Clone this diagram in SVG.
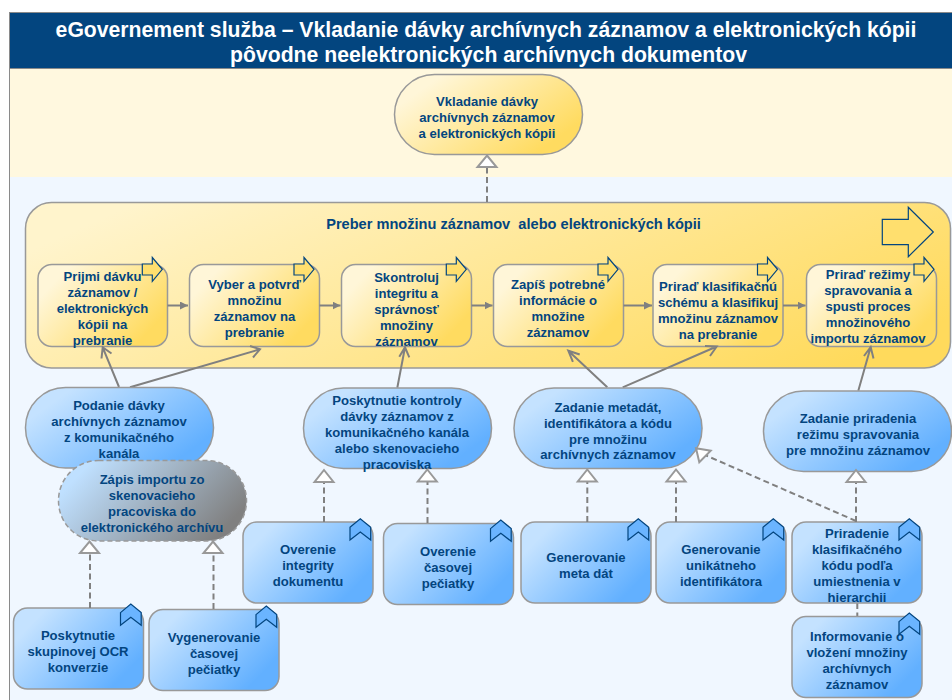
<svg xmlns="http://www.w3.org/2000/svg" width="952" height="700" viewBox="0 0 952 700">
<style>
text{font-family:"Liberation Sans",Arial,sans-serif;font-weight:bold;fill:#03457f;font-size:13.1px;text-anchor:middle}
.title{fill:#fff;font-size:21.2px}
.head{font-size:14.6px}
.n{stroke:#999;stroke-width:1.5}
.b{fill:url(#blue)}
.y{fill:url(#yel)}
.c{fill:none;stroke:#808080;stroke-width:2}
.d{fill:none;stroke:#808080;stroke-width:2;stroke-dasharray:6 3.5}
.h{fill:#fff;stroke:#999;stroke-width:2}
.o{fill:none;stroke:#808080;stroke-width:2}
.ar{fill:#ffdf6e;stroke:#03457f;stroke-width:1.2}
.ch{fill:#6ab4ff;stroke:#03457f;stroke-width:1.2}
</style>
<defs>
<linearGradient id="blue" x1="0" y1="0.2" x2="1" y2="0.8"><stop offset="0.1" stop-color="#c4e2ff"/><stop offset="0.9" stop-color="#62b0ff"/></linearGradient>
<linearGradient id="yel" x1="0" y1="0.2" x2="1" y2="0.8"><stop offset="0.1" stop-color="#fff6d8"/><stop offset="0.9" stop-color="#ffdb60"/></linearGradient>
<linearGradient id="big" x1="0" y1="0.3" x2="1" y2="0.7"><stop offset="0" stop-color="#fff4cc"/><stop offset="1" stop-color="#ffda5c"/></linearGradient>
<linearGradient id="gray" x1="0" y1="0.3" x2="1" y2="0.7"><stop offset="0.05" stop-color="#bfe0ff"/><stop offset="0.95" stop-color="#808080"/></linearGradient>
<polygon id="arrowIcon" points="0,0 10,0 10,-6.5 20,5.3 10,17.3 10,11 0,11"/>
<polygon id="chevIcon" points="0,8.6 10.3,0 20.7,8.6 20.7,21.3 10.3,13.3 0,21.3"/>
<marker id="fill" markerUnits="userSpaceOnUse" markerWidth="10" markerHeight="10" refX="8" refY="4" orient="auto"><path d="M0,0 L8,4 L0,8 Z" fill="#808080"/></marker>
</defs>
<rect id="bg" x="9.5" y="12.5" width="943" height="688" fill="#f0f7ff" stroke="#8a8a8a" stroke-width="1"/>
<rect x="10" y="68" width="942" height="109" fill="#fff8df"/>
<g id="header">
<rect x="9.5" y="12.5" width="943" height="56" fill="#03457f" stroke="#8a8a8a" stroke-width="1"/>
<text class="title" x="486" y="37">eGovernement služba – Vkladanie dávky archívnych záznamov a elektronických kópii</text>
<text class="title" x="488.500" y="62">pôvodne neelektronických archívnych dokumentov</text>
</g>
<g id="n-top"><rect class="n y" x="394.500" y="74.500" width="188" height="80" rx="40"/>
<text x="487" y="106">Vkladanie dávky<tspan x="487" dy="16">archívnych záznamov</tspan><tspan x="487" dy="16">a elektronických kópii</tspan></text></g>
<g id="n-process"><rect class="n" fill="url(#big)" x="25.500" y="202.500" width="925" height="165.500" rx="26"/>
<text class="head" x="513.500" y="229" xml:space="preserve">Preber množinu záznamov  alebo elektronických kópii</text>
<polygon class="ar" points="882.300,219.300 908.300,219.300 908.300,207.300 933.300,232 908.300,256.700 908.300,244.700 882.300,244.700"/></g>
<g id="t1"><rect class="n y" x="38" y="264.500" width="129.500" height="82" rx="14"/>
<text x="102.500" y="281">Prijmi dávku<tspan x="102.500" dy="16">záznamov /</tspan><tspan x="102.500" dy="16">elektronických</tspan><tspan x="102.500" dy="16">kópii na</tspan><tspan x="102.500" dy="16">prebranie</tspan></text>
<use class="ar" href="#arrowIcon" x="142.300" y="264"/></g>
<g id="t2"><rect class="n y" x="189.500" y="264.500" width="130" height="82" rx="14"/>
<text x="254.500" y="289">Vyber a potvrď<tspan x="254.500" dy="16">množinu</tspan><tspan x="254.500" dy="16">záznamov na</tspan><tspan x="254.500" dy="16">prebranie</tspan></text>
<use class="ar" href="#arrowIcon" x="294" y="264"/></g>
<g id="t3"><rect class="n y" x="341.500" y="264.500" width="130" height="82" rx="14"/>
<text x="406.500" y="281.500">Skontroluj<tspan x="406.500" dy="16">integritu a</tspan><tspan x="406.500" dy="16">správnosť</tspan><tspan x="406.500" dy="16">množiny</tspan><tspan x="406.500" dy="16">záznamov</tspan></text>
<use class="ar" href="#arrowIcon" x="446.300" y="264"/></g>
<g id="t4"><rect class="n y" x="493.500" y="264.500" width="130" height="82" rx="14"/>
<text x="558" y="289">Zapíš potrebné<tspan x="558" dy="16">informácie o</tspan><tspan x="558" dy="16">množine</tspan><tspan x="558" dy="16">záznamov</tspan></text>
<use class="ar" href="#arrowIcon" x="598" y="264"/></g>
<g id="t5"><rect class="n y" x="653" y="264.500" width="130" height="82" rx="14"/>
<text x="718" y="291">Priraď klasifikačnú<tspan x="718" dy="16">schému a klasifikuj</tspan><tspan x="718" dy="16">množinu záznamov</tspan><tspan x="718" dy="16">na prebranie</tspan></text>
<use class="ar" href="#arrowIcon" x="757.500" y="264"/></g>
<g id="t6"><rect class="n y" x="806.500" y="264.500" width="130" height="82" rx="14"/>
<text x="868" y="279">Priraď režimy<tspan x="868" dy="16">spravovania a</tspan><tspan x="868" dy="16">spusti proces</tspan><tspan x="868" dy="16">množinového</tspan><tspan x="868" dy="16">importu záznamov</tspan></text>
<use class="ar" href="#arrowIcon" x="914" y="264"/></g>
<g id="connectors">
<path class="c" marker-end="url(#fill)" d="M167.500,305.500H188"/>
<path class="c" marker-end="url(#fill)" d="M319.500,305.500H340.500"/>
<path class="c" marker-end="url(#fill)" d="M471.500,305.500H492.500"/>
<path class="c" marker-end="url(#fill)" d="M623.500,305.500H652"/>
<path class="c" marker-end="url(#fill)" d="M783,305.500H805.500"/>
<path class="o" d="M119,387L102.700,347.300M101.500,358.500L102.700,347.300L111.500,353.500"/>
<path class="o" d="M130,387.300L260,349.300M250,346L260,349.300L253,357.500"/>
<path class="o" d="M397.300,387.700L405,347.300M399.300,356.700L405,347.300L409.300,357.300"/>
<path class="o" d="M607.300,387.300L568.300,350.700M572.900,361.900L568.300,350.700L579.700,354.500"/>
<path class="o" d="M622.700,387.300L716.700,346.500M705,346L716.700,346.500L710,356"/>
<path class="o" d="M858.300,390.700L870.700,347M864,356L870.700,347L873.500,358.500"/>
<path class="d" d="M487,202V167"/><polygon class="h" points="487,155.500 496.500,167 477.500,167"/>
<path class="d" d="M857.300,603V617"/>
</g>
<g id="n-podanie"><rect class="n b" x="25.500" y="387.500" width="188" height="80.500" rx="40"/>
<text x="119" y="410">Podanie dávky<tspan x="119" dy="16">archívnych záznamov</tspan><tspan x="119" dy="16">z komunikačného</tspan><tspan x="119" dy="16">kanála</tspan></text></g>
<g id="n-zapis"><rect fill="url(#gray)" stroke="#999" stroke-width="1.500" stroke-dasharray="5 3" x="58.500" y="460.500" width="188" height="80.500" rx="40"/>
<text x="152" y="484">Zápis importu zo<tspan x="152" dy="16">skenovacieho</tspan><tspan x="152" dy="16">pracoviska do</tspan><tspan x="152" dy="16">elektronického archívu</tspan></text></g>
<g id="n-kontroly"><rect class="n b" x="303.500" y="388" width="188" height="80.500" rx="40"/>
<text x="397" y="404.500">Poskytnutie kontroly<tspan x="397" dy="16">dávky záznamov z</tspan><tspan x="397" dy="16">komunikačného kanála</tspan><tspan x="397" dy="16">alebo skenovacieho</tspan><tspan x="397" dy="16">pracoviska</tspan></text></g>
<g id="n-metadata"><rect class="n b" x="514" y="388" width="188" height="80.500" rx="40"/>
<text x="608" y="412">Zadanie metadát,<tspan x="608" dy="16">identifikátora a kódu</tspan><tspan x="608" dy="16">pre množinu</tspan><tspan x="608" dy="15">archívnych záznamov</tspan></text></g>
<g id="n-rezim"><rect class="n b" x="763.500" y="391" width="188" height="80.500" rx="40"/>
<text x="858" y="423">Zadanie priradenia<tspan x="858" dy="16">režimu spravovania</tspan><tspan x="858" dy="16">pre množinu záznamov</tspan></text></g>
<g id="n-ocr"><rect class="n b" x="13.500" y="608" width="130" height="81" rx="14"/>
<text x="78" y="640">Poskytnutie<tspan x="78" dy="16">skupinovej OCR</tspan><tspan x="78" dy="16">konverzie</tspan></text>
<use class="ch" href="#chevIcon" x="120.500" y="604"/></g>
<g id="n-vyg"><rect class="n b" x="149" y="609.500" width="130" height="81" rx="14"/>
<text x="214" y="642">Vygenerovanie<tspan x="214" dy="16">časovej</tspan><tspan x="214" dy="16">pečiatky</tspan></text>
<use class="ch" href="#chevIcon" x="256" y="606"/></g>
<g id="n-integ"><rect class="n b" x="243" y="522" width="130" height="81" rx="14"/>
<text x="308" y="554">Overenie<tspan x="308" dy="16">integrity</tspan><tspan x="308" dy="16">dokumentu</tspan></text>
<use class="ch" href="#chevIcon" x="350" y="518.700"/></g>
<g id="n-cas"><rect class="n b" x="383.500" y="523.500" width="130" height="81" rx="14"/>
<text x="448" y="556">Overenie<tspan x="448" dy="16">časovej</tspan><tspan x="448" dy="16">pečiatky</tspan></text>
<use class="ch" href="#chevIcon" x="490.500" y="520"/></g>
<g id="n-meta"><rect class="n b" x="521" y="522" width="130" height="81" rx="14"/>
<text x="586" y="562">Generovanie<tspan x="586" dy="16">meta dát</tspan></text>
<use class="ch" href="#chevIcon" x="628" y="518.700"/></g>
<g id="n-uni"><rect class="n b" x="656" y="522" width="130" height="81" rx="14"/>
<text x="721" y="554">Generovanie<tspan x="721" dy="16">unikátneho</tspan><tspan x="721" dy="16">identifikátora</tspan></text>
<use class="ch" href="#chevIcon" x="763" y="518.700"/></g>
<g id="n-prir"><rect class="n b" x="792" y="522" width="130" height="81" rx="14"/>
<text x="857" y="538">Priradenie<tspan x="857" dy="16">klasifikačného</tspan><tspan x="857" dy="16">kódu podľa</tspan><tspan x="857" dy="16">umiestnenia v</tspan><tspan x="857" dy="16">hierarchii</tspan></text>
<use class="ch" href="#chevIcon" x="899" y="518.700"/></g>
<g id="n-info"><rect class="n b" x="792" y="616.500" width="130" height="81" rx="14"/>
<text x="857" y="641">Informovanie o<tspan x="857" dy="16">vložení množiny</tspan><tspan x="857" dy="16">archívnych</tspan><tspan x="857" dy="16">záznamov</tspan></text>
<use class="ch" href="#chevIcon" x="899" y="613"/></g>
<g id="connectors-dashed">
<path class="d" d="M90,608V553"/><polygon class="h" points="89.500,541.500 99,553 80,553"/>
<path class="d" d="M213.500,609V553"/><polygon class="h" points="213,541.500 222.500,553 203.500,553"/>
<path class="d" d="M324,522V482"/><polygon class="h" points="324,470 333.500,482 314.500,482"/>
<path class="d" d="M427.500,523V482"/><polygon class="h" points="427.300,469.500 436.800,481.500 417.800,481.500"/>
<path class="d" d="M587.300,522V482"/><polygon class="h" points="587.300,469.500 596.800,481.500 577.800,481.500"/>
<path class="d" d="M676,522V482"/><polygon class="h" points="676,469.500 685.500,481.500 666.500,481.500"/>
<path class="d" d="M856,522V482"/><polygon class="h" points="856,470 865.500,482 846.500,482"/>
<path class="d" d="M856,521L705,455"/><polygon class="h" points="696,448.300 710.700,450.700 699.300,462.300"/>
</g>
</svg>
